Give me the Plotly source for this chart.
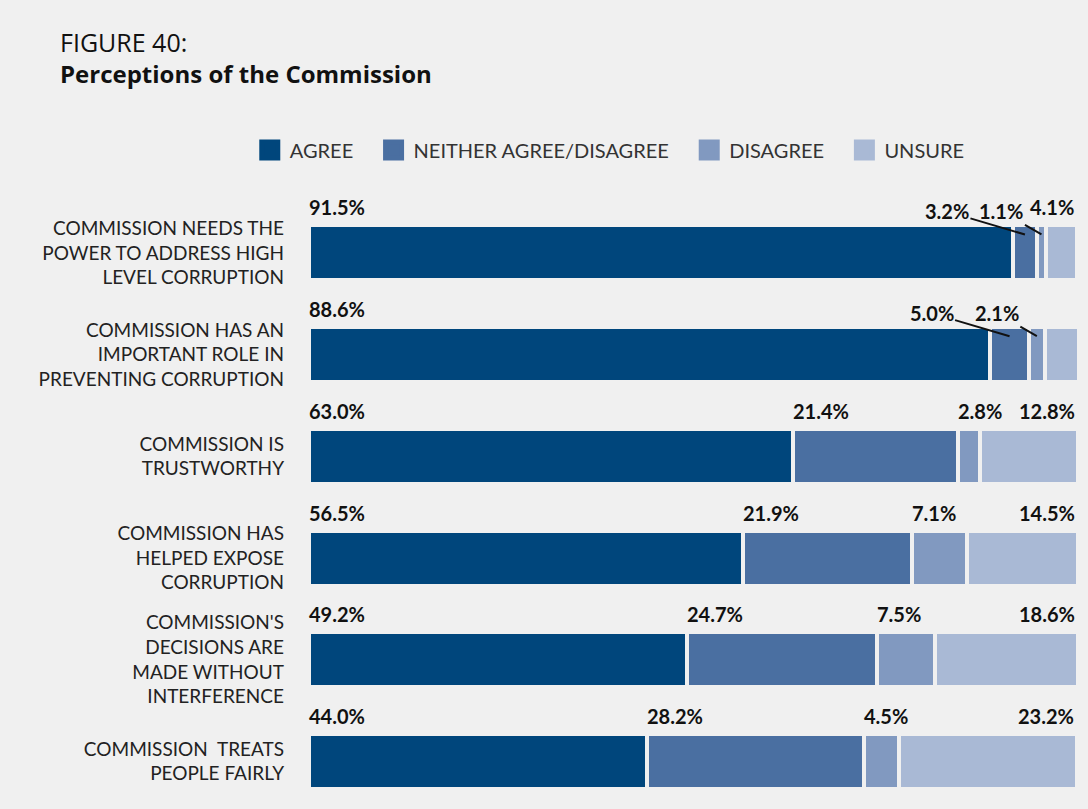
import plotly.graph_objects as go

# Survey items, top to bottom
categories = [
    "COMMISSION NEEDS THE<br>POWER TO ADDRESS HIGH<br>LEVEL CORRUPTION",
    "COMMISSION HAS AN<br>IMPORTANT ROLE IN<br>PREVENTING CORRUPTION",
    "COMMISSION IS<br>TRUSTWORTHY",
    "COMMISSION HAS<br>HELPED EXPOSE<br>CORRUPTION",
    "COMMISSION'S<br>DECISIONS ARE<br>MADE WITHOUT<br>INTERFERENCE",
    "COMMISSION\u00a0 TREATS<br>PEOPLE FAIRLY",
]

# Response shares (%)
agree = [91.5, 88.6, 63.0, 56.5, 49.2, 44.0]
neither = [3.2, 5.0, 21.4, 21.9, 24.7, 28.2]
disagree = [1.1, 2.1, 2.8, 7.1, 7.5, 4.5]
unsure = [4.1, 4.4, 12.8, 14.5, 18.6, 23.2]

series_names = ["AGREE", "NEITHER AGREE/DISAGREE", "DISAGREE", "UNSURE"]
series_values = [agree, neither, disagree, unsure]
colors = ["#00467c", "#4a6fa1", "#8199c0", "#a9b9d5"]

BG = "#f0f0f0"
FONT = "Lato"
TITLE_FONT = "Open Sans"
BAR_WIDTH = 0.54
LEGEND_PAD = "\u00a0" * 3  # extra room between legend entries

rows = list(range(len(categories)))

fig = go.Figure()

for name, vals, col in zip(series_names, series_values, colors):
    fig.add_trace(go.Bar(
        y=rows, x=vals, orientation="h", name=name,
        width=BAR_WIDTH,
        marker=dict(color=col, line=dict(color=BG, width=4)),
        showlegend=False, hoverinfo="skip",
    ))
    # legend swatch
    fig.add_trace(go.Scatter(
        x=[None], y=[None], mode="markers", name=name + LEGEND_PAD,
        marker=dict(symbol="square", size=16, color=col,
                    line=dict(color=col, width=5)),
    ))

# Value labels above each segment
annotations = []
label_font = dict(family=FONT, size=20, color="#111111")
for r in rows:
    crowded = agree[r] > 80
    cum = 0.0
    top = r - BAR_WIDTH / 2
    n = len(series_values)
    for k, vals in enumerate(series_values):
        v = vals[r]
        text = f"<b>{v:.1f}%</b>"
        if k == n - 1:
            annotations.append(dict(
                x=cum + v, y=top, xref="x", yref="y", text=text,
                xanchor="right", yanchor="bottom", yshift=4, xshift=-1,
                showarrow=False, font=label_font))
        elif crowded and k > 0:
            annotations.append(dict(
                x=cum + v / 2, y=top, xref="x", yref="y", text=text,
                yshift=-9, showarrow=True, arrowhead=0, arrowwidth=2,
                arrowcolor="#111111", ax=-78 if k == 1 else -40, ay=-23,
                font=label_font))
        else:
            annotations.append(dict(
                x=cum, y=top, xref="x", yref="y", text=text,
                xanchor="left", yanchor="bottom", yshift=4, xshift=-2,
                showarrow=False, font=label_font))
        cum += v

fig.update_layout(
    width=1088, height=809,
    margin=dict(l=309, r=10, t=197, b=17),
    paper_bgcolor=BG, plot_bgcolor=BG,
    barmode="stack", bargap=0,
    font=dict(family=FONT, color="#222222"),
    title=dict(
        text=("<span style='font-size:25px'>FIGURE 40:</span><br>"
              "<b>Perceptions of the Commission</b>"),
        x=60 / 1088, xref="container", xanchor="left",
        y=1 - 52 / 809, yref="container", yanchor="top",
        font=dict(family=TITLE_FONT, size=24, color="#111111"),
    ),
    legend=dict(
        orientation="h", traceorder="normal", x=-0.077, xanchor="left",
        y=(792 - 150) / 595, yanchor="middle",
        font=dict(family=FONT, size=20, color="#333333"),
        bgcolor="rgba(0,0,0,0)", itemclick=False, itemdoubleclick=False,
    ),
    xaxis=dict(range=[0, 100], visible=False, fixedrange=True),
    yaxis=dict(
        tickvals=rows, ticktext=categories, range=[5.3, -0.55],
        showgrid=False, zeroline=False, ticks="", ticklabelstandoff=24,
        tickfont=dict(family=FONT, size=19, color="#222222"),
        fixedrange=True,
    ),
    annotations=annotations,
)

fig.write_html("out.html", config={"displayModeBar": False})
